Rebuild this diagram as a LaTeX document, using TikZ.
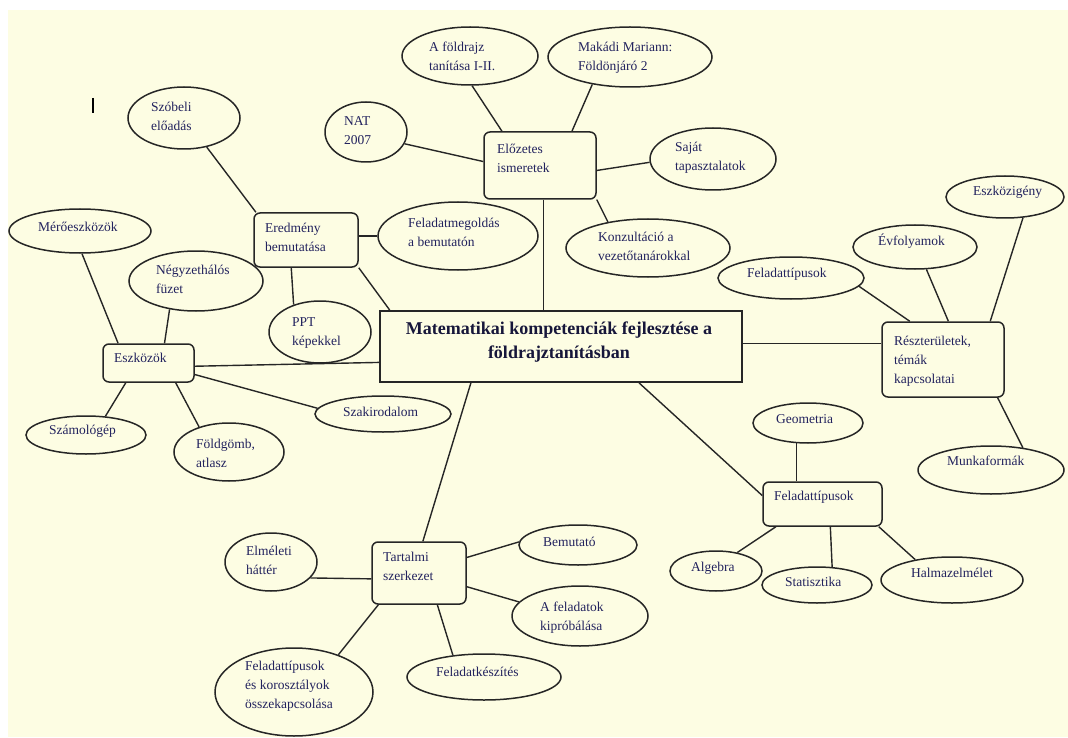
\documentclass[tikz,border=0pt]{standalone}
\usepackage{fontspec}
\setmainfont{Liberation Serif}
\usetikzlibrary{shapes.geometric}
\definecolor{paper}{HTML}{FDFDE3}
\definecolor{ink}{HTML}{262626}
\definecolor{txt}{HTML}{22225E}
\definecolor{titletxt}{HTML}{16163A}
% several lines, left aligned, baseline on the first line
\newcommand\mlines[1]{\begin{tabular}[t]{@{}l@{}}#1\end{tabular}}
\tikzset{
  oval/.style={draw=ink, line width=1.5pt, ellipse, inner sep=0pt},
  rbox/.style={draw=ink, line width=1.5pt, rectangle, rounded corners=6pt, inner sep=0pt},
  mainbox/.style={draw=ink, line width=1.8pt, rectangle, inner sep=0pt},
  lbl/.style={anchor=base west, inner sep=0pt, text=txt, font=\fontsize{13.5}{19}\selectfont},
  conn/.style={draw=ink, line width=1.4pt}
}
\begin{document}
\begin{tikzpicture}[x=1pt,y=-1pt]
\useasboundingbox (0,0) rectangle (1068,738);
\fill[white] (0,0) rectangle (1068,738);
\fill[paper] (8,10) rectangle (1068,737);

% stray text cursor
\draw[black, line width=1.2pt] (93,98) -- (93,113);

% ---------- central box ----------
\node[mainbox, minimum width=362pt, minimum height=71pt] (central) at (561,346.5) {};
\node[anchor=base, inner sep=0pt, text=titletxt, font=\fontsize{18}{24}\selectfont\bfseries] (central-t) at (559,334)
  {\begin{tabular}[t]{@{}c@{}}Matematikai kompetenciák fejlesztése a\\földrajztanításban\end{tabular}};

% ---------- hubs (rounded boxes) ----------
\node[rbox, minimum width=112pt, minimum height=67pt] (elozetes) at (540,165.5) {};
\node[lbl] (elozetes-t) at (497,154) {\mlines{Előzetes\\ismeretek}};

\node[rbox, minimum width=104pt, minimum height=54pt] (eredmeny) at (306,240) {};
\node[lbl] (eredmeny-t) at (265,233) {\mlines{Eredmény\\bemutatása}};

\node[rbox, minimum width=91pt, minimum height=38pt] (eszkozok) at (148.5,363) {};
\node[lbl] (eszkozok-t) at (114,362) {Eszközök};

\node[rbox, minimum width=94pt, minimum height=62pt] (tartalmi) at (419,573) {};
\node[lbl] (tartalmi-t) at (383,561) {\mlines{Tartalmi\\szerkezet}};

\node[rbox, minimum width=122pt, minimum height=75pt] (reszt) at (943,359.5) {};
\node[lbl] (reszt-t) at (894,345) {\mlines{Részterületek,\\témák\\kapcsolatai}};

\node[rbox, minimum width=119pt, minimum height=44pt] (ftbox) at (822.5,504) {};
\node[lbl] (ftbox-t) at (774,500) {Feladattípusok};

% ---------- ovals ----------
\node[oval, minimum width=136pt, minimum height=58pt] (afold) at (470,56) {};
\node[lbl] at (429,52) {\mlines{A földrajz\\tanítása I-II.}};
\node[oval, minimum width=164pt, minimum height=60pt] (makadi) at (630,57) {};
\node[lbl] at (578,52) {\mlines{Makádi Mariann:\\Földönjáró 2}};
\node[oval, minimum width=82pt, minimum height=60pt] (nat) at (366,132) {};
\node[lbl] at (344,126) {\mlines{NAT\\2007}};
\node[oval, minimum width=126pt, minimum height=62pt] (sajat) at (713,159) {};
\node[lbl] at (675,152) {\mlines{Saját\\tapasztalatok}};
\node[oval, minimum width=164pt, minimum height=58pt] (konz) at (648,248) {};
\node[lbl] at (598,241) {\mlines{Konzultáció a\\vezetőtanárokkal}};

\node[oval, minimum width=112pt, minimum height=62pt] (szobeli) at (184,118) {};
\node[lbl] at (151,112) {\mlines{Szóbeli\\előadás}};
\node[oval, minimum width=160pt, minimum height=68pt] (feladatmeg) at (458,236) {};
\node[lbl] at (408,228) {\mlines{Feladatmegoldás\\a bemutatón}};
\node[oval, minimum width=102pt, minimum height=62pt] (ppt) at (320,332) {};
\node[lbl] at (292,326) {\mlines{PPT\\képekkel}};

\node[oval, minimum width=142pt, minimum height=44pt] (mero) at (80,231) {};
\node[lbl] at (38,231) {Mérőeszközök};
\node[oval, minimum width=134pt, minimum height=60pt] (negyzet) at (196,281) {};
\node[lbl] at (156,274) {\mlines{Négyzethálós\\füzet}};
\node[oval, minimum width=136pt, minimum height=36pt] (szakiro) at (383,414) {};
\node[lbl] at (343,416) {Szakirodalom};
\node[oval, minimum width=120pt, minimum height=38pt] (szamolo) at (86,435) {};
\node[lbl] at (49,434) {Számológép};
\node[oval, minimum width=110pt, minimum height=58pt] (foldgomb) at (229,452) {};
\node[lbl] at (196,448) {\mlines{Földgömb,\\atlasz}};

\node[oval, minimum width=92pt, minimum height=58pt] (elmeleti) at (271,562) {};
\node[lbl] at (246,555) {\mlines{Elméleti\\háttér}};
\node[oval, minimum width=118pt, minimum height=40pt] (bemutato) at (578,545) {};
\node[lbl] at (543,546) {Bemutató};
\node[oval, minimum width=136pt, minimum height=60pt] (kiprob) at (580,616) {};
\node[lbl] at (540,611) {\mlines{A feladatok\\kipróbálása}};
\node[oval, minimum width=154pt, minimum height=46pt] (felkeszit) at (484,677) {};
\node[lbl] at (436,676) {Feladatkészítés};
\node[oval, minimum width=158pt, minimum height=88pt] (felkor) at (294,692) {};
\node[lbl] at (245,670) {\mlines{Feladattípusok\\és korosztályok\\összekapcsolása}};

\node[oval, minimum width=118pt, minimum height=42pt] (eszkozig) at (1005,197) {};
\node[lbl] at (973,196) {Eszközigény};
\node[oval, minimum width=124pt, minimum height=44pt] (evfoly) at (915,247) {};
\node[lbl] at (878,245) {Évfolyamok};
\node[oval, minimum width=146pt, minimum height=42pt] (feltip) at (791,278) {};
\node[lbl] at (747,277) {Feladattípusok};
\node[oval, minimum width=146pt, minimum height=48pt] (munka) at (991,470) {};
\node[lbl] at (947,465) {Munkaformák};

\node[oval, minimum width=110pt, minimum height=40pt] (geometria) at (808,423) {};
\node[lbl] at (776,423) {Geometria};
\node[oval, minimum width=92pt, minimum height=40pt] (algebra) at (716,571) {};
\node[lbl] at (691,571) {Algebra};
\node[oval, minimum width=110pt, minimum height=36pt] (statiszt) at (817,585) {};
\node[lbl] at (785,586) {Statisztika};
\node[oval, minimum width=142pt, minimum height=46pt] (halmaz) at (952,580) {};
\node[lbl] at (911,577) {Halmazelmélet};

% ---------- connectors ----------
\draw[conn] (elozetes.138) -- (afold.-86);
\draw[conn] (elozetes.47) -- (makadi.216);
\draw[conn] (elozetes.176) -- (nat.-17);
\draw[conn] (elozetes.-5) -- (sajat.183);
\draw[conn] (elozetes.-31) -- (konz.147);
\draw[conn] (elozetes.-84) -- (elozetes.-84 |- central.north);

\draw[conn] (szobeli.-52) -- (eredmeny.151);
\draw[conn] (eredmeny.east |- feladatmeg.west) -- (feladatmeg.west);
\draw[conn] (eredmeny.242) -- (ppt.134);
\draw[conn] (eredmeny.south east) -- (central.168);

\draw[conn] (mero.-85) -- (eszkozok.147);
\draw[conn] (negyzet.227) -- (eszkozok.51);
\draw[conn] (eszkozok.-4) -- (central.185);
\draw[conn] (eszkozok.-14) -- (szakiro.175);
\draw[conn] (eszkozok.221) -- (szamolo.44);
\draw[conn] (eszkozok.-36) -- (foldgomb.140);

\draw[conn] (central.202) -- (tartalmi.83);
\draw[conn] (tartalmi.187) -- (elmeleti.-22);
\draw[conn] (tartalmi.18) -- (bemutato.177);
\draw[conn] (tartalmi.-16) -- (kiprob.167);
\draw[conn] (tartalmi.-60) -- (felkeszit.145);
\draw[conn] (tartalmi.218) -- (felkor.40);

\draw[conn] (central.1) -- (central.1 -| reszt.west);
\draw[conn] (feltip.-7) -- (reszt.131);
\draw[conn] (evfoly.-63) -- (reszt.82);
\draw[conn] (eszkozig.-49) -- (reszt.39);
\draw[conn] (reszt.-35) -- (munka.35);

\draw[conn] (central.-25.6) -- (ftbox.172);
\draw[conn] (geometria.240) -- (geometria.240 |- ftbox.north);
\draw[conn] (ftbox.206) -- (algebra.41);
\draw[conn] (ftbox.-71) -- (statiszt.50);
\draw[conn] (ftbox.-22) -- (halmaz.151);
\end{tikzpicture}
\end{document}
